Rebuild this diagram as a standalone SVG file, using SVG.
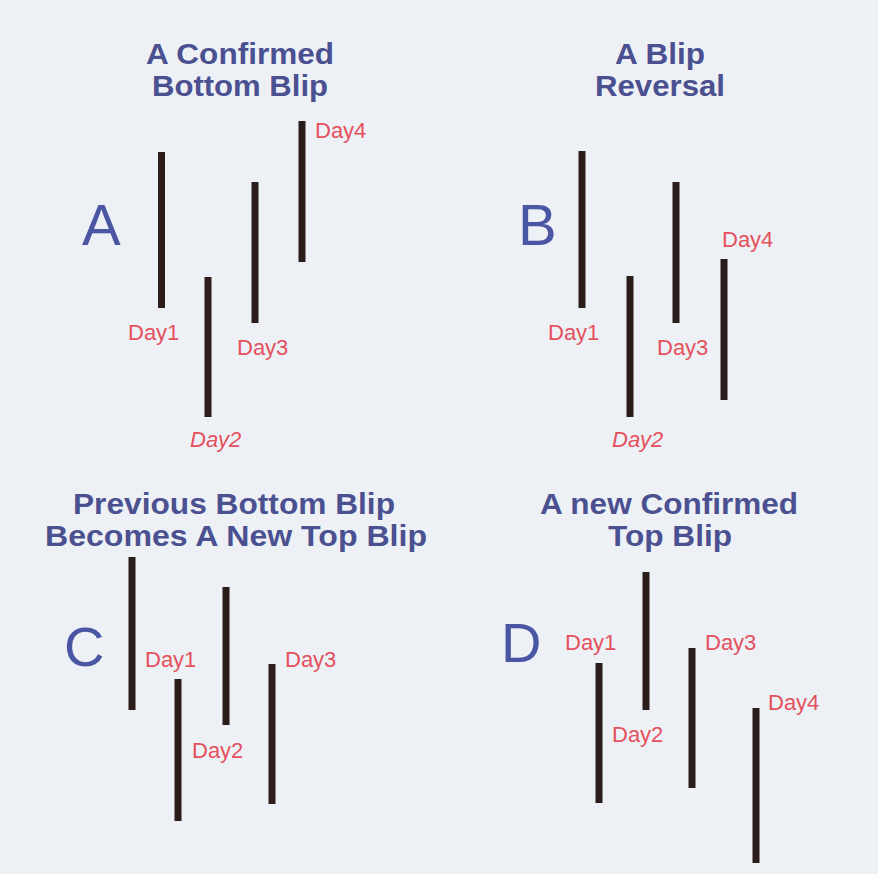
<svg xmlns="http://www.w3.org/2000/svg" width="878" height="874" viewBox="0 0 878 874">
<style>
.bg{fill:#edf1f6}
.title{font-family:"Liberation Sans",Arial,sans-serif;font-weight:bold;font-size:29px;fill:#4b5090;text-anchor:middle}
.letter{font-family:"Liberation Sans",Arial,sans-serif;font-size:58px;fill:#4a55a4}
.day{font-family:"Liberation Sans",Arial,sans-serif;font-size:22px;fill:#e4505c}
.it{font-style:italic}
.bar{stroke:#2b1d19;stroke-width:7;stroke-linecap:butt}
</style>
<rect class="bg" x="0" y="0" width="878" height="874"/>

<g id="panelA">
<text class="title" x="240" y="64" textLength="188" lengthAdjust="spacingAndGlyphs">A Confirmed</text>
<text class="title" x="240" y="96" textLength="176" lengthAdjust="spacingAndGlyphs">Bottom Blip</text>
<text class="letter" x="82" y="245">A</text>
<g id="A-bars">
<line class="bar" x1="161.5" y1="152" x2="161.5" y2="308"/>
<line class="bar" x1="208" y1="277" x2="208" y2="417"/>
<line class="bar" x1="255" y1="182" x2="255" y2="323"/>
<line class="bar" x1="302" y1="121" x2="302" y2="262"/>
</g>
<text class="day" x="128" y="340">Day1</text>
<text class="day it" x="190" y="447">Day2</text>
<text class="day" x="237" y="355">Day3</text>
<text class="day" x="315" y="138">Day4</text>
</g>

<g id="panelB">
<text class="title" x="660" y="64" textLength="90" lengthAdjust="spacingAndGlyphs">A Blip</text>
<text class="title" x="660" y="96" textLength="130" lengthAdjust="spacingAndGlyphs">Reversal</text>
<text class="letter" x="518" y="245">B</text>
<g id="B-bars">
<line class="bar" x1="582" y1="151" x2="582" y2="308"/>
<line class="bar" x1="630" y1="276" x2="630" y2="417"/>
<line class="bar" x1="676" y1="182" x2="676" y2="323"/>
<line class="bar" x1="724" y1="259" x2="724" y2="400"/>
</g>
<text class="day" x="548" y="340">Day1</text>
<text class="day it" x="612" y="447">Day2</text>
<text class="day" x="657" y="355">Day3</text>
<text class="day" x="722" y="247">Day4</text>
</g>

<g id="panelC">
<text class="title" x="234" y="514" textLength="322" lengthAdjust="spacingAndGlyphs">Previous Bottom Blip</text>
<text class="title" x="236" y="546" textLength="382" lengthAdjust="spacingAndGlyphs">Becomes A New Top Blip</text>
<text class="letter" x="64" y="666" style="font-size:56px">C</text>
<g id="C-bars">
<line class="bar" x1="132" y1="557" x2="132" y2="710"/>
<line class="bar" x1="178" y1="679" x2="178" y2="821"/>
<line class="bar" x1="226" y1="587" x2="226" y2="725"/>
<line class="bar" x1="272" y1="664" x2="272" y2="804"/>
</g>
<text class="day" x="145" y="667">Day1</text>
<text class="day" x="192" y="758">Day2</text>
<text class="day" x="285" y="667">Day3</text>
</g>

<g id="panelD">
<text class="title" x="669" y="514" textLength="258" lengthAdjust="spacingAndGlyphs">A new Confirmed</text>
<text class="title" x="670" y="546" textLength="124" lengthAdjust="spacingAndGlyphs">Top Blip</text>
<text class="letter" x="501" y="662" style="font-size:56px">D</text>
<g id="D-bars">
<line class="bar" x1="599" y1="663" x2="599" y2="803"/>
<line class="bar" x1="646" y1="572" x2="646" y2="710"/>
<line class="bar" x1="692" y1="648" x2="692" y2="788"/>
<line class="bar" x1="756" y1="708" x2="756" y2="863"/>
</g>
<text class="day" x="565" y="650">Day1</text>
<text class="day" x="612" y="742">Day2</text>
<text class="day" x="705" y="650">Day3</text>
<text class="day" x="768" y="710">Day4</text>
</g>
</svg>
